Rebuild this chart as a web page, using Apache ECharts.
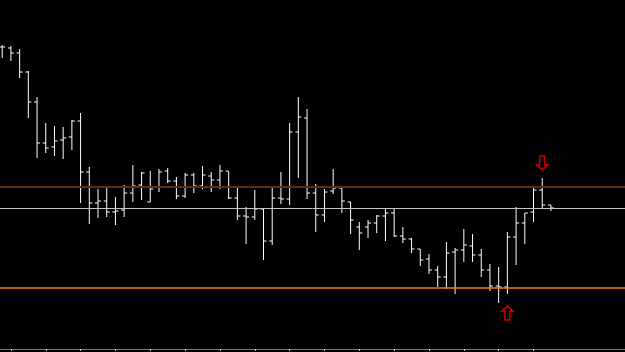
<!DOCTYPE html>
<html>
<head>
<meta charset="utf-8">
<script src="https://cdn.jsdelivr.net/npm/echarts@6/dist/echarts.min.js"></script>
<style>
html,body{margin:0;padding:0;background:#000;}
#chart{width:625px;height:352px;}
</style>
</head>
<body>
<div id="chart"></div>
<script>
// OHLC bars (price units)
const opens  = [302,301,296,277,247,206,202,209,212,228,177,146,148,137,139,156,164,147,162,178,168,153,174,163,173,169,178,151,133,132,140,108,151,150,217,231,156,134,158,161,147,122,122,126,133,136,113,110,100,90,79,72,97,99,103,94,79,63,62,112,126,137,159,144];
const highs  = [304,303,300,278,252,226,223,222,229,236,182,160,161,152,164,184,177,178,180,181,172,176,176,183,177,184,178,162,142,159,140,162,177,226,252,240,165,160,180,162,147,127,129,134,140,140,122,111,100,95,83,107,101,120,115,100,85,82,117,142,136,161,171,144];
const lows   = [291,288,271,231,191,196,193,190,199,146,125,131,132,124,132,147,149,147,157,166,150,151,156,160,157,160,150,129,105,129,89,104,145,144,171,150,117,127,155,136,115,99,111,116,108,112,106,96,83,75,62,60,55,87,87,72,58,46,55,84,105,127,141,138];
const closes = [302,296,277,247,206,201,208,211,228,177,146,148,137,138,156,163,176,160,177,168,153,174,163,174,169,178,151,133,132,140,108,151,150,217,232,156,134,157,161,148,129,116,126,133,136,113,110,100,89,79,72,96,99,104,94,79,63,62,112,126,136,159,144,141];
// horizontal levels
const levelUpper = 162;   // brown line
const levelMid = 141;     // grey line
const levelLower = 61;    // orange line
// signal arrows: [barIndex, price]
const downArrows = [[62, 186]];
const upArrows = [[58, 36]];
// time-axis tick positions (bar indices)
const tickBars = [1,5,9,13,17,21,25,29,33,37,41,45,49,53,57,61];

const bars = opens.map((o, i) => [i, o, highs[i], lows[i], closes[i]]);

const chart = echarts.init(document.getElementById('chart'), null, {renderer: 'canvas'});
const spacing = 8.71, firstX = 2.2, W = 625;
const xmin = -firstX / spacing;
const xmax = xmin + W / spacing;

const downPath = 'path://M3,0 L8,0 L8,9 L11,9 L5.5,14 L0,9 L3,9 Z';
const upPath = 'path://M5.5,0 L11,5 L8,5 L8,14 L3,14 L3,5 L0,5 Z';

chart.setOption({
  backgroundColor: '#000000',
  animation: false,
  grid: {left: 0, right: 0, top: 0, bottom: 3},
  xAxis: {
    type: 'value', min: xmin, max: xmax,
    axisLine: {show: true, onZero: false, lineStyle: {color: '#7a7a7a', width: 1}},
    axisTick: {show: true, customValues: tickBars, length: 2, lineStyle: {color: '#d0d0d0', width: 1}},
    axisLabel: {show: false},
    splitLine: {show: false}
  },
  yAxis: {
    type: 'value', min: 0, max: 349, show: false, splitLine: {show: false}
  },
  series: [
    {
      type: 'custom',
      data: bars,
      encode: {x: 0, y: [1, 2, 3, 4]},
      renderItem: function (params, api) {
        const i = api.value(0);
        const pO = api.coord([i, api.value(1)]);
        const pH = api.coord([i, api.value(2)]);
        const pL = api.coord([i, api.value(3)]);
        const pC = api.coord([i, api.value(4)]);
        const x = pO[0];
        const st = {stroke: '#ffffff', lineWidth: 1};
        return {
          type: 'group',
          children: [
            {type: 'line', shape: {x1: x, y1: pH[1], x2: x, y2: pL[1]}, style: st},
            {type: 'line', shape: {x1: x - 3, y1: pO[1], x2: x, y2: pO[1]}, style: st},
            {type: 'line', shape: {x1: x, y1: pC[1], x2: x + 3, y2: pC[1]}, style: st}
          ]
        };
      },
      markLine: {
        silent: true,
        symbol: ['none', 'none'],
        label: {show: false},
        data: [
          {yAxis: levelUpper, lineStyle: {color: '#5c2e0a', width: 2, type: 'solid'}},
          {yAxis: levelMid, lineStyle: {color: '#c4c4c4', width: 1, type: 'solid'}},
          {yAxis: levelLower, lineStyle: {color: '#f07f00', width: 1.5, type: 'solid'}}
        ]
      },
      z: 3
    },
    {
      type: 'scatter',
      data: downArrows,
      symbol: downPath,
      symbolSize: [11, 14],
      itemStyle: {color: 'rgba(0,0,0,0)', borderColor: '#ff0000', borderWidth: 1.5},
      z: 4
    },
    {
      type: 'scatter',
      data: upArrows,
      symbol: upPath,
      symbolSize: [11, 14],
      itemStyle: {color: 'rgba(0,0,0,0)', borderColor: '#ff0000', borderWidth: 1.5},
      z: 4
    }
  ]
});
</script>
</body>
</html>
